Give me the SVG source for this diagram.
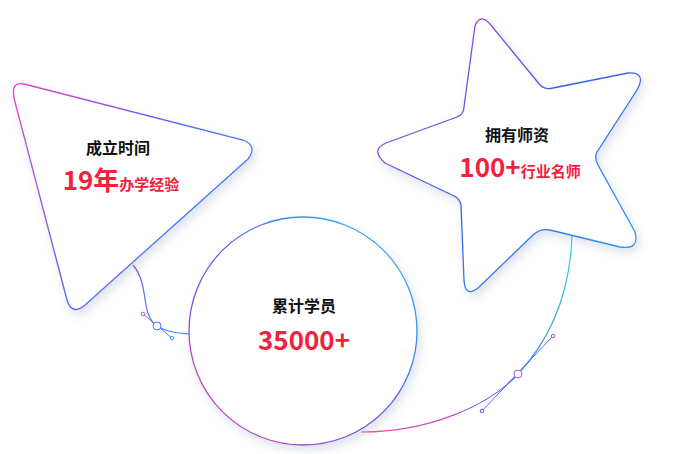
<svg xmlns="http://www.w3.org/2000/svg" width="690" height="454" viewBox="0 0 690 454">
<style>
.t{font-family:"Noto Sans CJK SC","Noto Sans",sans-serif;font-weight:bold;}
.h{font-size:16px;fill:#111;}
.n{font-size:26px;fill:#f5213c;}
.s{font-size:15px;fill:#f5213c;}
.sh{fill:#fff;stroke-width:1.3;filter:url(#sd);}
.c{fill:none;stroke-width:1.2;}
.hd{fill:#fff;stroke-width:1;}
</style>
<defs>
<filter id="sd" x="-20%" y="-20%" width="140%" height="140%"><feDropShadow dx="3" dy="5" stdDeviation="5" flood-color="#8090b0" flood-opacity="0.25"/></filter>
<linearGradient id="gt" x1="0" y1="0" x2="1" y2="0.6"><stop offset="0" stop-color="#f040c0"/><stop offset="0.5" stop-color="#6a5cf0"/><stop offset="1" stop-color="#2a8cff"/></linearGradient>
<linearGradient id="gs" x1="0" y1="0" x2="1" y2="1"><stop offset="0" stop-color="#c040d8"/><stop offset="0.5" stop-color="#3a60f0"/><stop offset="1" stop-color="#20a8f8"/></linearGradient>
<linearGradient id="gc" x1="0" y1="1" x2="1" y2="0"><stop offset="0" stop-color="#f040b0"/><stop offset="0.45" stop-color="#6050f0"/><stop offset="1" stop-color="#20c8f0"/></linearGradient>
<linearGradient id="g1" x1="0" y1="0" x2="0" y2="1"><stop offset="0" stop-color="#8050e0"/><stop offset="1" stop-color="#3090ff"/></linearGradient>
<linearGradient id="g2" x1="1" y1="0" x2="0" y2="1"><stop offset="0" stop-color="#30d8e0"/><stop offset="0.5" stop-color="#3a70f0"/><stop offset="0.8" stop-color="#c050d0"/><stop offset="1" stop-color="#ff5070"/></linearGradient>
</defs>
<g id="connectors">
<path class="c" stroke="url(#g1)" d="M133,265 C150,285 140,315 157,326 C168,333 180,333 190,334"/>
<line x1="143" y1="314" x2="172" y2="338" stroke="#6a70f0" stroke-width="1"/>
<circle class="hd" cx="157" cy="326" r="4" stroke="#5a70f0"/>
<circle class="hd" cx="143" cy="314" r="1.8" stroke="#c050d0"/>
<circle class="hd" cx="172" cy="338" r="1.8" stroke="#3090ff"/>
<path class="c" stroke="url(#g2)" d="M572,235 C570,300 545,345 518,374 C490,405 430,432 361,432"/>
<line x1="553" y1="336" x2="482" y2="411" stroke="#4a70f0" stroke-width="1"/>
<circle class="hd" cx="518" cy="374" r="4" stroke="#a060e0"/>
<circle class="hd" cx="553" cy="336" r="1.8" stroke="#a050e0"/>
<circle class="hd" cx="482" cy="411" r="1.8" stroke="#6050f0"/>
</g>
<g id="circle">
<circle class="sh" cx="303" cy="331" r="114" stroke="url(#gc)"/>
<text class="t h" x="304" y="312" text-anchor="middle">累计学员</text>
<text class="t n" x="304" y="350" text-anchor="middle">35000+</text>
</g>
<g id="triangle">
<path class="sh" stroke="url(#gt)" d="M24,84 L243,140 Q258,146 248,159 L85,305 Q72,316 67,300 L14,98 Q11,81 24,84 Z"/>
<text class="t h" x="118" y="154" text-anchor="middle">成立时间</text>
<text class="t" x="121" y="190" text-anchor="middle"><tspan class="n">19年</tspan><tspan class="s">办学经验</tspan></text>
</g>
<g id="star">
<path class="sh" stroke="url(#gs)" d="M475,26 Q480,13 490,24 L540,85 Q545,90 553,88 L628,73 Q647,72 637,90 L597,152 Q594,158 598,165 L635,232 Q640,250 620,247 L550,230 Q540,228 533,235 L478,288 Q465,298 464,280 L461,205 Q460,198 452,195 L385,163 Q370,150 386,143 L457,117 Q464,114 464,107 Z"/>
<text class="t h" x="517" y="141" text-anchor="middle">拥有师资</text>
<text class="t" x="520" y="177" text-anchor="middle"><tspan class="n">100+</tspan><tspan class="s">行业名师</tspan></text>
</g>
</svg>
